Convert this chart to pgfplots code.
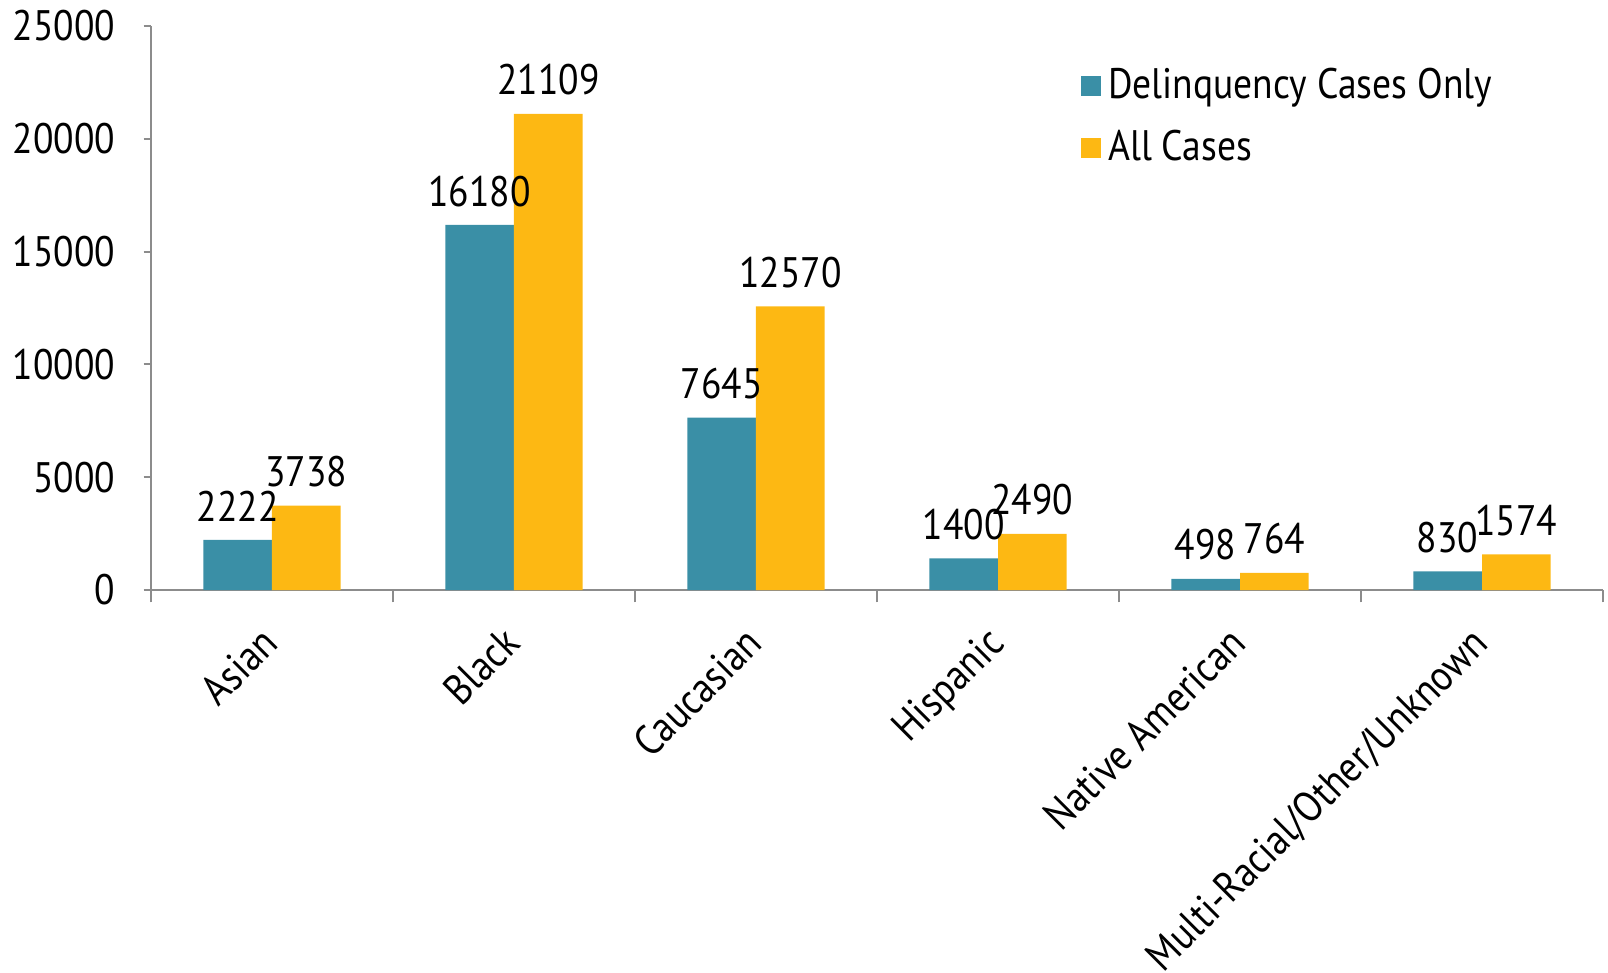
\documentclass[border=0pt]{standalone}
\usepackage{fontspec}
\setmainfont{PT Sans}[FakeStretch=0.88]
\usepackage{pgfplots}
\pgfplotsset{compat=1.18}
\definecolor{tealc}{HTML}{3A8FA6}
\definecolor{yellc}{HTML}{FDB813}
\definecolor{axgray}{HTML}{8C8C8C}
\begin{document}
\begin{tikzpicture}
\path[use as bounding box] (-45.3pt,-114.9pt) rectangle (437.1pt,177pt);
\begin{axis}[
  at={(0pt,0pt)}, anchor=south west,
  scale only axis,
  width=435.6pt, height=169.2pt,
  ybar=0pt,
  bar width=0.284,
  xmin=-0.5, xmax=5.5,
  ymin=0, ymax=25000,
  ytick={0,5000,...,25000},
  scaled y ticks=false,
  xtick={0,...,5},
  xticklabels={Asian,Black,Caucasian,Hispanic,Native American,Multi-Racial/Other/Unknown},
  minor xtick={-0.5,0.5,...,5.5},
  axis lines*=left,
  axis line style={draw=axgray, line width=0.6pt},
  tick align=outside,
  major x tick style={draw=none},
  minor x tick style={draw=axgray, line width=0.6pt},
  minor tick length=3.7pt,
  major tick length=2.2pt,
  ytick style={draw=axgray, line width=0.6pt},
  /pgf/number format/1000 sep={},
  /pgf/number format/assume math mode=true,
  tick label style={font=\fontsize{12.8}{15}\selectfont, text=black},
  yticklabel style={xshift=-5pt},
  xticklabel style={rotate=45, anchor=north east, xshift=-5pt, yshift=0.5pt},
  nodes near coords,
  every node near coord/.append style={font=\fontsize{12.8}{15}\selectfont, text=black, yshift=2pt},
  legend style={at={(0.633,0.95)}, anchor=north west, draw=none, fill=none,
    font=\fontsize{12.8}{15}\selectfont, row sep=4pt},
  legend cell align=left,
  legend image code/.code={\fill[#1] (0pt,-3.1pt) rectangle (6.2pt,3.1pt);},
]
\addplot[fill=tealc, draw=none] coordinates {(0,2222) (1,16180) (2,7645) (3,1400) (4,498) (5,830)};
\addplot[fill=yellc, draw=none] coordinates {(0,3738) (1,21109) (2,12570) (3,2490) (4,764) (5,1574)};
\legend{Delinquency Cases Only, All Cases}
\end{axis}
\end{tikzpicture}
\end{document}
